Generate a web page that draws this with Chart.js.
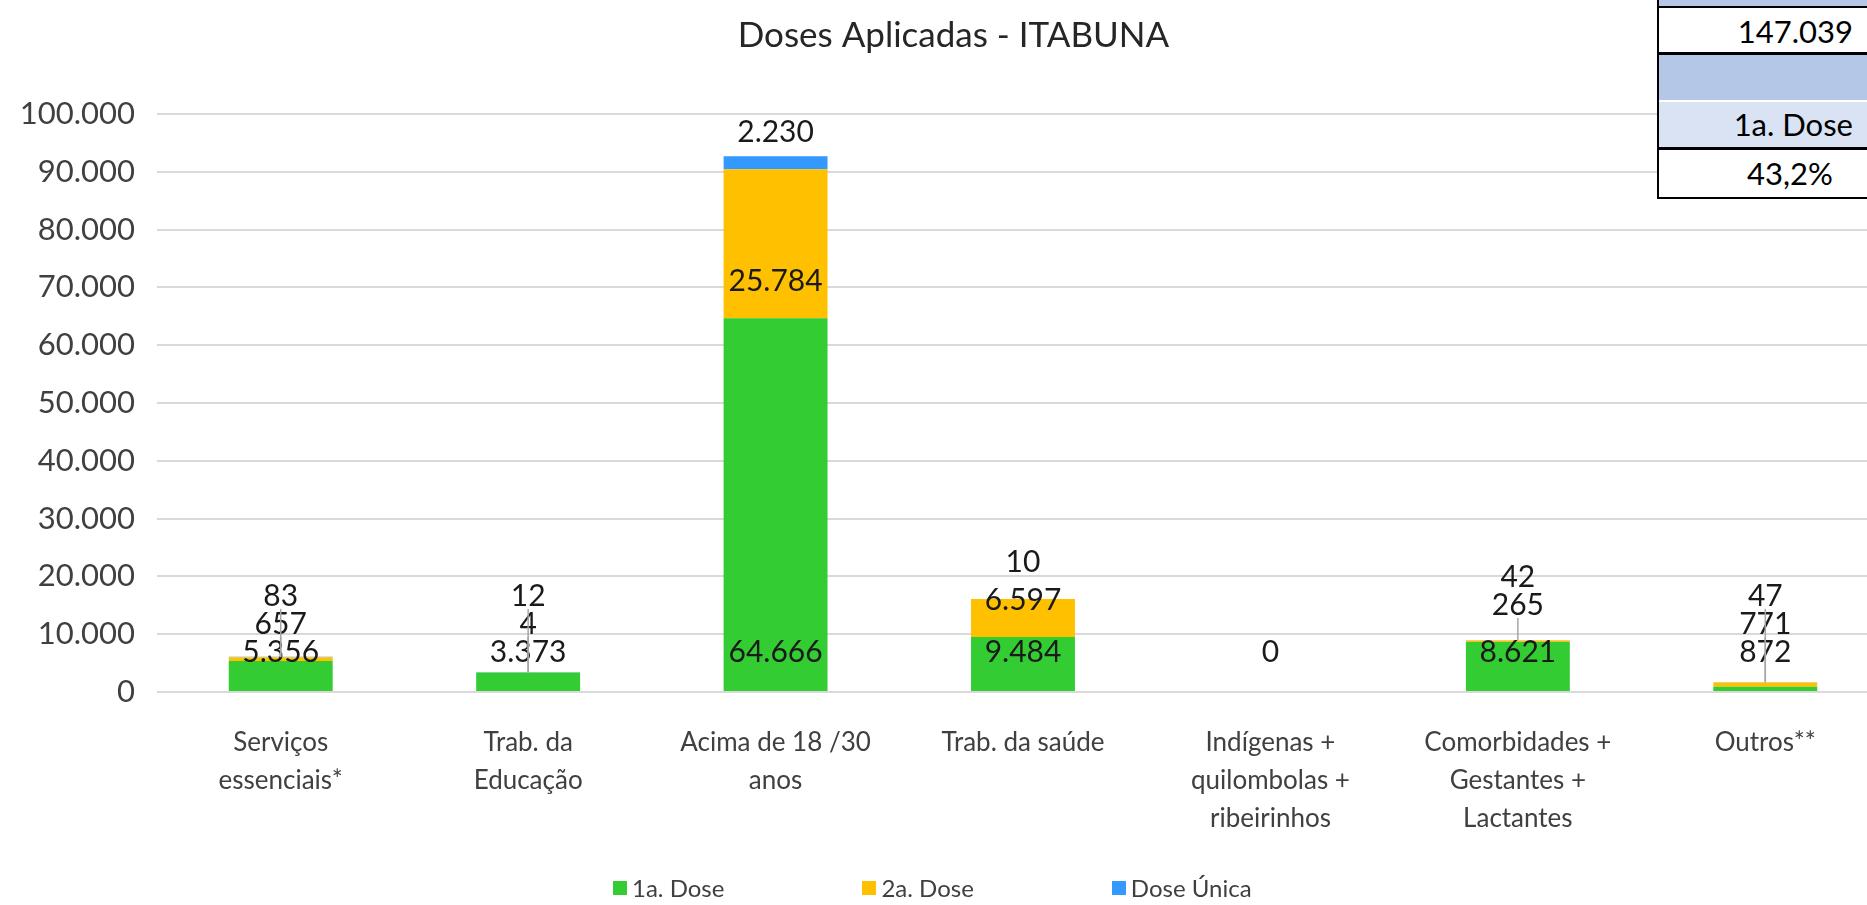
<!DOCTYPE html>
<html>
<head>
<meta charset="utf-8">
<script src="https://cdn.jsdelivr.net/npm/chart.js@4"></script>
<style>
    html, body { margin: 0; padding: 0; background: #fff; overflow: hidden; }
    body { width: 1867px; height: 905px; position: relative; font-family: Lato, sans-serif; }
    #wrap { position: absolute; left: 0; top: 0; width: 1895px; height: 905px; }

    /* quadro resumo (canto superior direito) */
    #painel { position: absolute; left: 1657px; top: 0; width: 262px; border-left: 2px solid #000; border-bottom: 2px solid #000; font-size: 31px; color: #000; }
    #painel div { box-sizing: border-box; }
    .faixa0 { height: 8px; background: #b4c7e7; border-bottom: 2px solid #000; }
    .total { height: 47px; line-height: 46px; background: #fff; text-align: right; padding-right: 68px; border-bottom: 3px solid #000; }
    .faixa2 { height: 47px; background: #b4c7e7; border-bottom: 2px solid #fff; }
    .dose { height: 48px; line-height: 45px; background: #dae3f3; text-align: right; padding-right: 68px; border-bottom: 3px solid #000; }
    .pct { height: 47px; line-height: 46px; background: #fff; text-align: center; }

    #legenda { position: absolute; left: 613px; top: 873px; display: flex; gap: 138px; font-size: 24px; color: #404040; }
    #legenda span.item { display: flex; align-items: center; }
    #legenda i { display: inline-block; width: 14px; height: 14px; margin-right: 5px; }
</style>
</head>
<body>

<div id="wrap"><canvas id="grafica" width="1895" height="905"></canvas></div>
<div id="painel"></div>
<div id="legenda"></div>

<script>
// =========================
// DADOS
// =========================
const categorias = [
    ["Serviços", "essenciais*"],
    ["Trab. da", "Educação"],
    ["Acima de 18 /30", "anos"],
    "Trab. da saúde",
    ["Indígenas +", "quilombolas +", "ribeirinhos"],
    ["Comorbidades +", "Gestantes +", "Lactantes"],
    "Outros**"
];

const primeiraDose = [5356, 3373, 64666, 9484, 0, 8621, 872];
const segundaDose  = [657, 4, 25784, 6597, 0, 265, 771];
const doseUnica    = [83, 12, 2230, 10, 0, 42, 47];

const series = ["1a. Dose", "2a. Dose", "Dose Única"];
const cores  = ["#33cc33", "#ffc000", "#3399ff"];

const ticksY = [0, 10000, 20000, 30000, 40000, 50000, 60000, 70000, 80000, 90000, 100000];

const painelTotal = "147.039";
const painelDose  = "1a. Dose";
const painelPct   = "43,2%";

// rótulos com linha de chamada (categoria-serie)
const comLinha = ["0-1", "0-2", "1-1", "1-2", "5-1", "6-1", "6-2"];

// =========================
// FORMATO pt-BR
// =========================
function fmt(n) {
    return String(n).replace(/\B(?=(\d{3})+(?!\d))/g, ".");
}

// =========================
// QUADRO + LEGENDA
// =========================
document.getElementById("painel").innerHTML =
    '<div class="faixa0"></div>' +
    '<div class="total">' + painelTotal + '</div>' +
    '<div class="faixa2"></div>' +
    '<div class="dose">' + painelDose + '</div>' +
    '<div class="pct">' + painelPct + '</div>';

document.getElementById("legenda").innerHTML = series.map((s, k) =>
    '<span class="item"><i style="background:' + cores[k] + '"></i>' + s + '</span>'
).join("");

// =========================
// RÓTULOS DE DADOS
// =========================
const rotulos = {
    id: "rotulos",
    afterDatasetsDraw(chart) {
        const ctx = chart.ctx;
        const y = chart.scales.y;

        ctx.save();
        ctx.font = "30px Lato";
        ctx.textAlign = "center";
        ctx.textBaseline = "middle";

        chart.data.labels.forEach((_, i) => {
            let acum = 0;
            let anterior = null;

            chart.data.datasets.forEach((ds, d) => {
                const v = ds.data[i];
                const bar = chart.getDatasetMeta(d).data[i];
                const base = y.getPixelForValue(acum);
                acum += v;
                const topo = y.getPixelForValue(acum);

                if (d > 0 && v === 0) return;

                let py;
                if (d === 0) py = base - 40;
                else py = Math.min(base - 37, anterior - 28);
                anterior = py;

                if (comLinha.includes(i + "-" + d)) {
                    ctx.strokeStyle = "#a6a6a6";
                    ctx.lineWidth = 1.5;
                    ctx.beginPath();
                    ctx.moveTo(bar.x, py + 13);
                    ctx.lineTo(bar.x, topo);
                    ctx.stroke();
                }

                ctx.fillStyle = "#1a1a1a";
                ctx.fillText(fmt(v), bar.x, py);
            });
        });

        ctx.restore();
    }
};

// =========================
// GRÁFICA
// =========================
const ctx = document.getElementById("grafica").getContext("2d");

new Chart(ctx, {
    type: "bar",
    data: {
        labels: categorias,
        datasets: [
            { label: series[0], data: primeiraDose, backgroundColor: cores[0] },
            { label: series[1], data: segundaDose,  backgroundColor: cores[1] },
            { label: series[2], data: doseUnica,    backgroundColor: cores[2] }
        ]
    },
    options: {
        responsive: false,
        animation: false,
        barPercentage: 0.42,
        categoryPercentage: 1.0,
        layout: { padding: { top: 0, right: 6, bottom: 44, left: 18 } },
        plugins: {
            legend: { display: false },
            tooltip: { enabled: false },
            title: {
                display: true,
                text: "Doses Aplicadas - ITABUNA",
                color: "#262626",
                font: { family: "Lato", size: 35, weight: "normal", lineHeight: 1.2 },
                padding: { top: 15, bottom: 57 }
            }
        },
        scales: {
            x: {
                stacked: true,
                grid: { display: false },
                border: { display: false },
                ticks: {
                    color: "#404040",
                    font: { family: "Lato", size: 26, lineHeight: 1.45 },
                    padding: 24,
                    maxRotation: 0,
                    autoSkip: false
                }
            },
            y: {
                stacked: true,
                min: 0,
                max: 100000,
                border: { display: false },
                grid: { color: "#d9d9d9", lineWidth: 2, drawTicks: false },
                afterBuildTicks: s => { s.ticks = ticksY.map(v => ({ value: v })); },
                afterFit: s => { s.width = 139; },
                ticks: {
                    color: "#404040",
                    font: { family: "Lato", size: 31 },
                    padding: 22,
                    callback: v => fmt(v)
                }
            }
        }
    },
    plugins: [rotulos]
});
</script>
</body>
</html>
